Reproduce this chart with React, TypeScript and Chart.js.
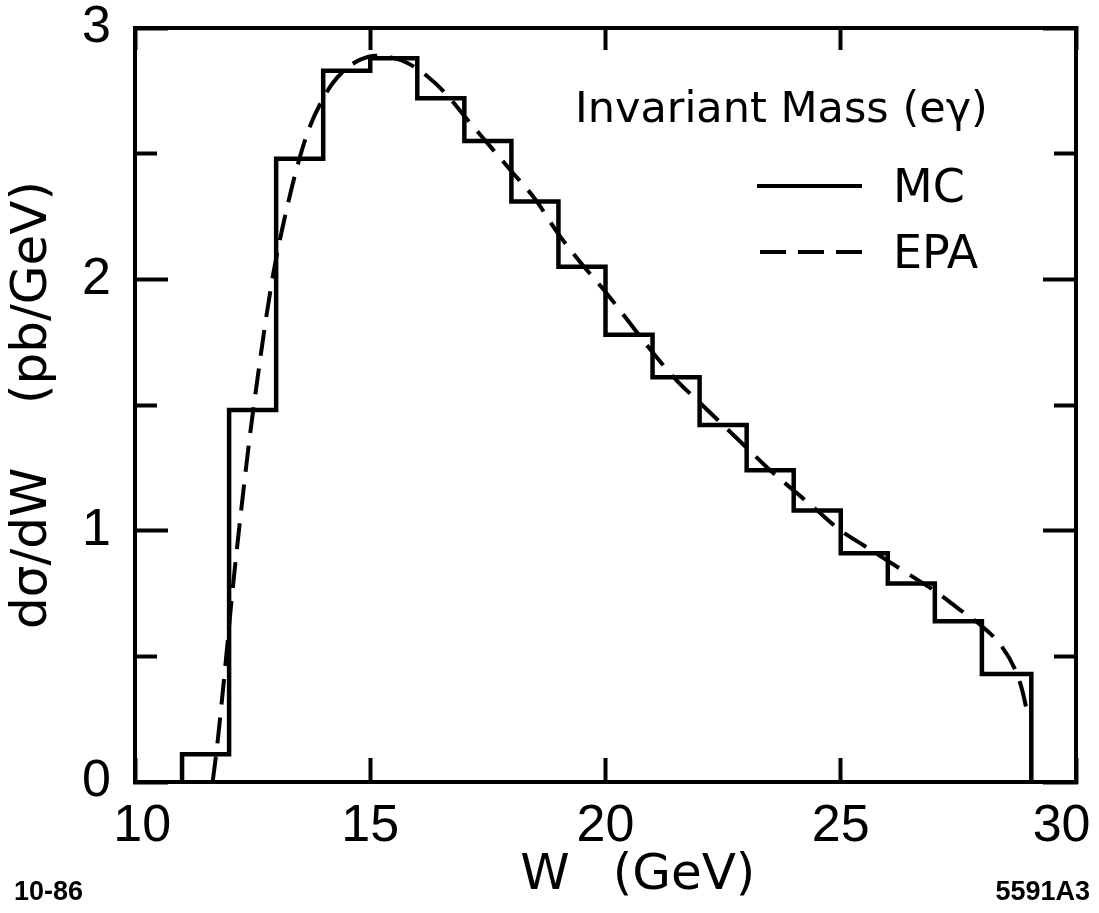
import React, { useEffect, useRef } from 'react';
import { Chart, registerables } from 'chart.js';

Chart.register(...registerables);

// Histogram (MC): bin edges in W (GeV) and dσ/dW values (pb/GeV)
const mcBinEdges = [11, 12, 13, 14, 15, 16, 17, 18, 19, 20, 21, 22, 23, 24, 25, 26, 27, 28, 29.05];
const mcValues = [0.11, 1.48, 2.48, 2.83, 2.88, 2.72, 2.55, 2.31, 2.05, 1.78, 1.61, 1.42, 1.24, 1.08, 0.91, 0.79, 0.64, 0.43];

// EPA curve (dashed)
const epaW = [11.65, 11.75, 11.85, 11.95, 12.05, 12.25, 12.45, 12.6, 12.75, 12.9, 13.05, 13.25, 13.45, 13.7, 14.0, 14.2, 14.5, 14.8, 15.1, 15.4, 15.8, 16.2, 16.6, 17.0, 17.5, 18.0, 18.5, 19.0, 19.5, 20.0, 20.5, 21.0, 21.5, 22.0, 22.5, 23.0, 23.5, 24.0, 24.5, 25.0, 25.5, 26.0, 26.5, 27.0, 27.5, 28.0, 28.4, 28.7, 28.85, 28.96];
const epaY = [0, 0.15, 0.33, 0.52, 0.72, 1.07, 1.39, 1.6, 1.8, 1.98, 2.13, 2.3, 2.45, 2.6, 2.72, 2.78, 2.84, 2.875, 2.89, 2.885, 2.86, 2.81, 2.74, 2.65, 2.54, 2.43, 2.32, 2.18, 2.06, 1.95, 1.83, 1.71, 1.6, 1.51, 1.42, 1.33, 1.24, 1.16, 1.08, 1.0, 0.94, 0.88, 0.82, 0.76, 0.69, 0.62, 0.545, 0.45, 0.37, 0.28];

// Axis ticks
const xTicks = [10, 15, 20, 25, 30];
const yTicks = [0, 1, 2, 3];
const yMinorTicks = [0.5, 1.5, 2.5];

const xTitleParts = ['W', '(GeV)'];
const yTitle = 'dσ/dW    (pb/GeV)';
const legendTitle = 'Invariant Mass (eγ)';
const legendLabels = ['MC', 'EPA'];
const cornerLeft = '10-86';
const cornerRight = '5591A3';

const TICK_FONT = { family: 'Liberation Sans, Arial, sans-serif', size: 52 };
const TEXT_FAMILY = 'DejaVu Sans, sans-serif';

function setTicks(values: number[]) {
  return (scale: any) => {
    scale.ticks = values.map((v) => ({ value: v }));
  };
}

function fixSize(opts: { width?: number; height?: number }) {
  return (scale: any) => {
    if (opts.width !== undefined) scale.width = opts.width;
    if (opts.height !== undefined) scale.height = opts.height;
    scale.paddingLeft = 0;
    scale.paddingRight = 0;
    scale.paddingTop = 0;
    scale.paddingBottom = 0;
  };
}

const textPlugin = {
  id: 'textPlugin',
  afterDraw(chart: any) {
    const ctx = chart.ctx;
    ctx.save();
    ctx.fillStyle = '#000';
    ctx.strokeStyle = '#000';
    // legend title
    ctx.font = `43px ${TEXT_FAMILY}`;
    ctx.textAlign = 'left';
    ctx.textBaseline = 'alphabetic';
    ctx.fillText(legendTitle, 575, 122);
    // legend entries
    ctx.lineWidth = 4;
    ctx.setLineDash([]);
    ctx.beginPath();
    ctx.moveTo(757, 186);
    ctx.lineTo(862, 186);
    ctx.stroke();
    ctx.setLineDash([26, 12]);
    ctx.beginPath();
    ctx.moveTo(760, 252);
    ctx.lineTo(862, 252);
    ctx.stroke();
    ctx.setLineDash([]);
    ctx.font = `46px ${TEXT_FAMILY}`;
    ctx.fillText(legendLabels[0], 893, 202);
    ctx.fillText(legendLabels[1], 893, 268);
    // x axis title
    ctx.font = `50px ${TEXT_FAMILY}`;
    ctx.textAlign = 'center';
    ctx.textBaseline = 'middle';
    ctx.fillText(xTitleParts[0], 545, 876);
    ctx.fillText(xTitleParts[1], 684, 876);
    // corner labels
    ctx.font = 'bold 27px Liberation Sans, Arial, sans-serif';
    ctx.textAlign = 'left';
    ctx.textBaseline = 'alphabetic';
    ctx.fillText(cornerLeft, 14, 900);
    ctx.textAlign = 'right';
    ctx.fillText(cornerRight, 1090, 900);
    ctx.restore();
  },
};

export default function App() {
  const canvasRef = useRef<HTMLCanvasElement | null>(null);

  useEffect(() => {
    const canvas = canvasRef.current;
    if (!canvas) return;

    const mcPoints: { x: number; y: number }[] = [{ x: mcBinEdges[0], y: 0 }];
    mcValues.forEach((v, i) => {
      mcPoints.push({ x: mcBinEdges[i], y: v });
      mcPoints.push({ x: mcBinEdges[i + 1], y: v });
    });
    mcPoints.push({ x: mcBinEdges[mcBinEdges.length - 1], y: 0 });

    const epaPoints = epaW.map((w, i) => ({ x: w, y: epaY[i] }));

    const gridBase = {
      drawOnChartArea: false,
      drawTicks: true,
      tickWidth: 4,
      tickColor: '#000',
    };

    const chart = new Chart(canvas, {
      type: 'line',
      data: {
        datasets: [
          {
            label: 'MC',
            data: mcPoints,
            borderColor: '#000',
            borderWidth: 4.5,
            pointRadius: 0,
            fill: false,
            tension: 0,
            xAxisID: 'x',
            yAxisID: 'y',
          },
          {
            label: 'EPA',
            data: epaPoints,
            borderColor: '#000',
            borderWidth: 4,
            borderDash: [26, 13],
            pointRadius: 0,
            fill: false,
            cubicInterpolationMode: 'monotone',
            xAxisID: 'x',
            yAxisID: 'y',
          },
        ],
      },
      options: {
        responsive: false,
        animation: false,
        layout: { padding: { left: 0, right: 23, top: 28, bottom: 0 } },
        plugins: {
          legend: { display: false },
          tooltip: { enabled: false },
        },
        scales: {
          x: {
            type: 'linear',
            position: 'bottom',
            min: 10,
            max: 30,
            afterBuildTicks: setTicks(xTicks),
            afterFit: fixSize({ height: 131 }),
            ticks: {
              font: TICK_FONT,
              color: '#000',
              padding: 37,
              maxRotation: 0,
              minRotation: 0,
              autoSkip: false,
              callback: (v: any) => (v === 10 ? ' 10' : v === 30 ? '30  ' : String(v)),
            },
            grid: { ...gridBase, tickLength: -24 },
            border: { display: true, width: 4, color: '#000' },
          },
          x2: {
            type: 'linear',
            position: 'top',
            min: 10,
            max: 30,
            afterBuildTicks: setTicks(xTicks),
            afterFit: fixSize({ height: 0 }),
            ticks: { display: false },
            grid: { ...gridBase, tickLength: -22 },
            border: { display: true, width: 4, color: '#000' },
          },
          y: {
            type: 'linear',
            position: 'left',
            weight: 1,
            min: 0,
            max: 3,
            afterBuildTicks: setTicks(yTicks),
            afterFit: fixSize({ width: 135 }),
            ticks: {
              font: TICK_FONT,
              color: '#000',
              padding: 57,
              autoSkip: false,
              callback: (v: any) => String(v),
            },
            grid: { ...gridBase, tickLength: -33 },
            border: { display: true, width: 4, color: '#000' },
            title: {
              display: true,
              text: yTitle,
              color: '#000',
              font: { family: TEXT_FAMILY, size: 50 },
              padding: { top: 3, bottom: 0 },
            },
          },
          yMinor: {
            type: 'linear',
            position: 'left',
            weight: 0,
            min: 0,
            max: 3,
            afterBuildTicks: setTicks(yMinorTicks),
            afterFit: fixSize({ width: 0 }),
            ticks: { display: false },
            grid: { ...gridBase, tickLength: -22 },
            border: { display: false },
          },
          y2: {
            type: 'linear',
            position: 'right',
            min: 0,
            max: 3,
            afterBuildTicks: setTicks(yTicks),
            afterFit: fixSize({ width: 0 }),
            ticks: { display: false },
            grid: { ...gridBase, tickLength: -33 },
            border: { display: true, width: 4, color: '#000' },
          },
          y2Minor: {
            type: 'linear',
            position: 'right',
            min: 0,
            max: 3,
            afterBuildTicks: setTicks(yMinorTicks),
            afterFit: fixSize({ width: 0 }),
            ticks: { display: false },
            grid: { ...gridBase, tickLength: -22 },
            border: { display: false },
          },
        },
      } as any,
      plugins: [textPlugin],
    });

    return () => chart.destroy();
  }, []);

  return (
    <div style={{ position: 'fixed', left: 0, top: 0, width: 1099, height: 913, background: '#fff' }}>
      <canvas ref={canvasRef} width={1099} height={913} style={{ display: 'block' }} />
    </div>
  );
}
